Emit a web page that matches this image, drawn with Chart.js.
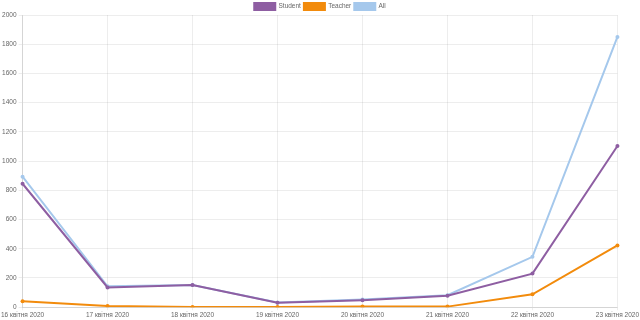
<!DOCTYPE html>
<html>
<head>
<meta charset="utf-8">
<script src="https://cdn.jsdelivr.net/npm/chart.js@4/dist/chart.umd.min.js"></script>
<style>
    html, body { margin: 0; padding: 0; background: #fff; }
    #wrap { width: 640px; height: 320px; }
</style>
</head>
<body>
<div id="wrap"><canvas id="chart"></canvas></div>
<script>
// Days on the x axis
const days = ['16 квітня 2020', '17 квітня 2020', '18 квітня 2020', '19 квітня 2020',
    '20 квітня 2020', '21 квітня 2020', '22 квітня 2020', '23 квітня 2020'];

// Series values
const studentValues = [845, 135, 152, 30, 48, 78, 230, 1103];
const teacherValues = [40, 8, 2, 2, 4, 4, 88, 423];
const allValues = [893, 143, 152, 32, 52, 82, 345, 1850];

const yTicks = [0, 200, 400, 600, 800, 1000, 1200, 1400, 1600, 1800, 2000];

Chart.defaults.font.family = '"Liberation Sans", Arial, sans-serif';
Chart.defaults.font.size = 6.5;
Chart.defaults.color = '#666';

function series(label, data, color) {
    return {
        label: label,
        data: data,
        borderColor: color,
        backgroundColor: color,
        borderWidth: 2,
        pointRadius: 2,
        pointBorderWidth: 0,
        pointBackgroundColor: color,
        fill: false,
        tension: 0
    };
}

new Chart(document.getElementById('chart'), {
    type: 'line',
    data: {
        labels: days,
        datasets: [
            series('Student', studentValues, '#8e5ea2'),
            series('Teacher', teacherValues, '#f28b0c'),
            series('All', allValues, '#a5c8ec')
        ]
    },
    options: {
        responsive: true,
        maintainAspectRatio: false,
        animation: false,
        layout: { padding: 0 },
        plugins: {
            legend: {
                display: true,
                position: 'top',
                maxHeight: 15,
                labels: {
                    boxWidth: 21,
                    boxHeight: 7,
                    padding: 3,
                    font: { size: 6.5 }
                }
            },
            tooltip: { enabled: false }
        },
        scales: {
            x: {
                grid: { color: 'rgba(0,0,0,0.07)', tickLength: 3 },
                ticks: { maxRotation: 0, autoSkip: false, padding: 1 }
            },
            y: {
                min: 0,
                max: 2000,
                afterBuildTicks: axis => { axis.ticks = yTicks.map(v => ({ value: v })); },
                grid: { color: 'rgba(0,0,0,0.07)', tickLength: 4 },
                ticks: { padding: 2, callback: value => String(value) }
            }
        }
    }
});
</script>
</body>
</html>
